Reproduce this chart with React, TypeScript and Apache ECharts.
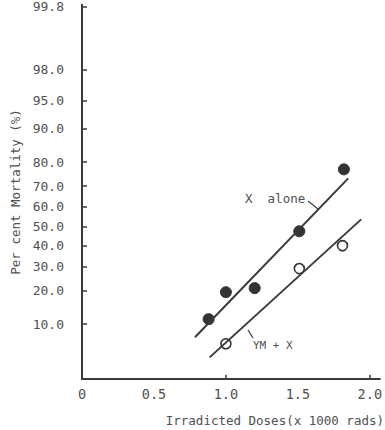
import React, { useEffect, useRef } from "react";
import * as echarts from "echarts";

// Data (percent mortality vs dose, x 1000 rads)
const xAloneDose = [0.88, 1.0, 1.2, 1.51, 1.82];
const xAlonePct = [11.2, 19.4, 20.9, 47.4, 77.2];
const ymxDose = [1.0, 1.51, 1.81];
const ymxPct = [6.2, 29.0, 40.0];
// fitted lines (endpoints)
const xAloneLineDose = [0.785, 1.85];
const xAloneLinePct = [7.3, 73.5];
const ymxLineDose = [0.887, 1.94];
const ymxLinePct = [4.3, 53.6];

const yTickLabels = ["99.8", "98.0", "95.0", "90.0", "80.0", "70.0", "60.0", "50.0", "40.0", "30.0", "20.0", "10.0"];
const xTickValues = [0, 0.5, 1.0, 1.5, 2.0];
const xTickLabels = ["0", "0.5", "1.0", "1.5", "2.0"];
const xTickMarks = [1.0, 2.0];

// inverse normal CDF (Acklam)
function probit(p: number): number {
  const a = [-3.969683028665376e1, 2.209460984245205e2, -2.759285104469687e2, 1.38357751867269e2, -3.066479806614716e1, 2.506628277459239];
  const b = [-5.447609879822406e1, 1.615858368580409e2, -1.556989798598866e2, 6.680131188771972e1, -1.328068155288572e1];
  const c = [-7.784894002430293e-3, -3.223964580411365e-1, -2.400758277161838, -2.549732539343734, 4.374664141464968, 2.938163982698783];
  const d = [7.784695709041462e-3, 3.224671290700398e-1, 2.445134137142996, 3.754408661907416];
  const pl = 0.02425;
  let q, r;
  if (p < pl) {
    q = Math.sqrt(-2 * Math.log(p));
    return (((((c[0] * q + c[1]) * q + c[2]) * q + c[3]) * q + c[4]) * q + c[5]) / ((((d[0] * q + d[1]) * q + d[2]) * q + d[3]) * q + 1);
  } else if (p <= 1 - pl) {
    q = p - 0.5;
    r = q * q;
    return ((((((a[0] * r + a[1]) * r + a[2]) * r + a[3]) * r + a[4]) * r + a[5]) * q) / (((((b[0] * r + b[1]) * r + b[2]) * r + b[3]) * r + b[4]) * r + 1);
  } else {
    q = Math.sqrt(-2 * Math.log(1 - p));
    return -(((((c[0] * q + c[1]) * q + c[2]) * q + c[3]) * q + c[4]) * q + c[5]) / ((((d[0] * q + d[1]) * q + d[2]) * q + d[3]) * q + 1);
  }
}
const z = (pct: number) => probit(pct / 100);

const INK = "#3a3a3a";
const TXT = "#505050";
const MONO = "'DejaVu Sans Mono', monospace";

export default function App() {
  const ref = useRef<HTMLDivElement>(null);
  useEffect(() => {
    if (!ref.current) return;
    const chart = echarts.init(ref.current, null, { renderer: "svg" });
    const yVals = yTickLabels.map((s) => z(parseFloat(s)));
    const fmtY = (v: number) => {
      let best = 0;
      let bd = Infinity;
      yVals.forEach((yv, i) => {
        const dd = Math.abs(yv - v);
        if (dd < bd) { bd = dd; best = i; }
      });
      return yTickLabels[best];
    };
    const fmtX = (v: number) => {
      const i = xTickValues.findIndex((t) => Math.abs(t - v) < 1e-6);
      return i >= 0 ? xTickLabels[i] : "";
    };
    chart.setOption({
      animation: false,
      backgroundColor: "#ffffff",
      grid: { left: 82, right: 0, top: 4, bottom: 51 },
      xAxis: {
        type: "value",
        min: 0,
        max: 2.07,
        axisLine: { onZero: false, lineStyle: { color: INK, width: 2 } },
        axisTick: { show: true, inside: true, length: 4, customValues: xTickMarks, lineStyle: { color: INK, width: 1.5 } },
        axisLabel: { customValues: xTickValues, formatter: fmtX, color: TXT, fontFamily: MONO, fontSize: 13.5, margin: 8 },
        splitLine: { show: false },
      },
      yAxis: {
        type: "value",
        min: -2.0,
        max: 2.9,
        name: "Per cent Mortality (%)",
        nameLocation: "middle",
        nameGap: 53,
        nameTextStyle: { color: TXT, fontFamily: MONO, fontSize: 12.5 },
        axisLine: { onZero: false, lineStyle: { color: INK, width: 2 } },
        axisTick: { show: true, inside: true, length: 5, customValues: yVals, lineStyle: { color: INK, width: 1.5 } },
        axisLabel: { customValues: yVals, formatter: fmtY, color: TXT, fontFamily: MONO, fontSize: 13, margin: 18 },
        splitLine: { show: false },
      },
      series: [
        {
          type: "line",
          data: xAloneLineDose.map((d, i) => [d, z(xAloneLinePct[i])]),
          symbol: "none",
          lineStyle: { color: INK, width: 2 },
        },
        {
          type: "line",
          data: ymxLineDose.map((d, i) => [d, z(ymxLinePct[i])]),
          symbol: "none",
          lineStyle: { color: INK, width: 2 },
        },
        {
          type: "scatter",
          data: xAloneDose.map((d, i) => [d, z(xAlonePct[i])]),
          symbol: "circle",
          symbolSize: 11,
          itemStyle: { color: "#333", borderColor: "#333", borderWidth: 1, opacity: 1 },
        },
        {
          type: "scatter",
          data: ymxDose.map((d, i) => [d, z(ymxPct[i])]),
          symbol: "circle",
          symbolSize: 10,
          itemStyle: { color: "#fff", borderColor: "#333", borderWidth: 1.6, opacity: 1 },
        },
      ],
      graphic: [
        { type: "text", x: 245, y: 198, style: { text: "X  alone", fill: TXT, font: `12.5px ${MONO}`, verticalAlign: "middle" } },
        { type: "line", shape: { x1: 308, y1: 201, x2: 318, y2: 209 }, style: { stroke: INK, lineWidth: 1.3 } },
        { type: "text", x: 253, y: 345, style: { text: "YM + X", fill: TXT, font: `11px ${MONO}`, verticalAlign: "middle" } },
        { type: "line", shape: { x1: 248, y1: 330, x2: 253, y2: 338 }, style: { stroke: INK, lineWidth: 1.3 } },
        { type: "text", x: 384, y: 420, style: { text: "Irradicted Doses(x 1000 rads)", fill: TXT, font: `12.5px ${MONO}`, align: "right", verticalAlign: "middle" } },
      ],
    });
    return () => chart.dispose();
  }, []);
  return <div ref={ref} style={{ position: "fixed", left: 0, top: 0, width: 385, height: 430 }} />;
}
